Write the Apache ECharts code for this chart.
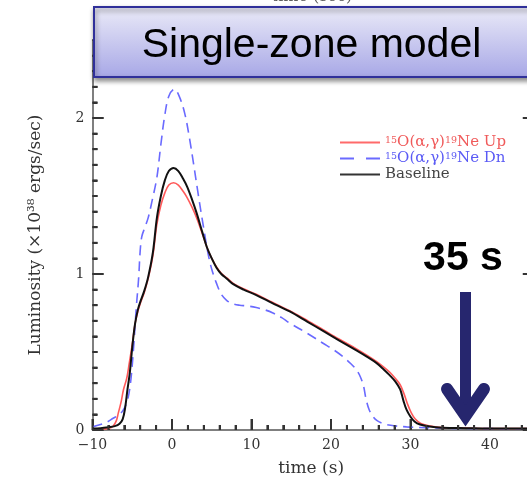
<!DOCTYPE html>
<html>
<head>
<meta charset="utf-8">
<script src="https://cdn.jsdelivr.net/npm/echarts@6/dist/echarts.min.js"></script>
<style>
html,body{margin:0;padding:0;background:#fff;}
#c{width:527px;height:482px;}
</style>
</head>
<body>
<div id="c"></div>
<script>
// ---- data (time in s, luminosity in 1e38 erg/s) ----
const seriesNames = ['Up', 'Dn', 'Baseline'];
const xTickLabels = [-10, 0, 10, 20, 30, 40];
const yTickLabels = [0, 1, 2];
const xMinorTicks = [-8, -6, -4, -2, 2, 4, 6, 8, 12, 14, 16, 18, 22, 24, 26, 28, 32, 34, 36, 38, 42, 44];
const yMinorTicks = [0.1, 0.2, 0.3, 0.4, 0.5, 0.6, 0.7, 0.8, 0.9, 1.1, 1.2, 1.3, 1.4, 1.5, 1.6, 1.7, 1.8, 1.9, 2.1, 2.2, 2.3, 2.4];

const upData = [[-10,0.005],[-9,0.006],[-8,0.01],[-7.4,0.025],[-7.0,0.06],[-6.75,0.11],[-6.4,0.18],[-6.1,0.26],[-5.7,0.33],[-5.4,0.42],[-5.0,0.55],[-4.65,0.68],[-4.3,0.76],[-4.0,0.81],[-3.5,0.88],[-3.0,0.97],[-2.4,1.12],[-1.9,1.32],[-1.4,1.44],[-0.9,1.52],[-0.4,1.57],[0.2,1.585],[0.8,1.57],[1.4,1.53],[1.9,1.49],[2.5,1.43],[3.1,1.36],[3.8,1.26],[4.4,1.17],[5.0,1.10],[5.6,1.045],[6.2,1.005],[6.9,0.975],[7.7,0.94],[9.0,0.905],[10.6,0.87],[12.5,0.822],[14.8,0.765],[17,0.703],[19,0.643],[21,0.583],[23.2,0.52],[24.5,0.48],[25.7,0.44],[26.6,0.405],[27.4,0.37],[28.1,0.33],[28.7,0.29],[29.2,0.23],[29.6,0.17],[30.1,0.11],[30.6,0.07],[31.3,0.042],[32.5,0.025],[34,0.015],[37,0.012],[40,0.01],[45,0.01]];

const dnData = [[-10,0.02],[-9,0.035],[-8.2,0.05],[-7.4,0.075],[-6.6,0.10],[-6.1,0.13],[-5.6,0.19],[-5.2,0.31],[-4.8,0.55],[-4.5,0.78],[-4.2,0.97],[-4.0,1.15],[-3.8,1.24],[-3.4,1.30],[-3.0,1.36],[-2.5,1.47],[-1.9,1.62],[-1.4,1.83],[-0.9,2.02],[-0.4,2.14],[0.3,2.185],[0.9,2.14],[1.6,2.03],[2.2,1.87],[2.7,1.71],[3.3,1.51],[3.9,1.32],[4.5,1.14],[5.0,1.03],[5.6,0.94],[6.2,0.87],[6.9,0.83],[7.6,0.81],[8.5,0.80],[9.5,0.795],[10.6,0.785],[11.7,0.77],[12.7,0.75],[13.8,0.72],[14.8,0.685],[17,0.62],[19,0.556],[20.3,0.515],[21.5,0.47],[22.5,0.425],[23.2,0.385],[23.7,0.34],[24.1,0.28],[24.4,0.2],[24.8,0.13],[25.3,0.085],[25.8,0.06],[26.6,0.04],[27.5,0.03],[29.5,0.02],[32,0.015],[36,0.01],[45,0.008]];

const baseData = [[-10,0.01],[-9,0.012],[-8,0.018],[-7.2,0.025],[-6.6,0.04],[-6.2,0.07],[-5.9,0.14],[-5.6,0.26],[-5.3,0.37],[-5.0,0.53],[-4.65,0.68],[-4.3,0.77],[-4.0,0.82],[-3.5,0.89],[-3.0,0.98],[-2.4,1.14],[-1.9,1.36],[-1.4,1.50],[-0.9,1.60],[-0.4,1.66],[0.2,1.68],[0.8,1.66],[1.4,1.61],[1.9,1.56],[2.5,1.48],[3.1,1.39],[3.8,1.27],[4.4,1.17],[5.0,1.10],[5.6,1.04],[6.2,1.00],[6.9,0.97],[7.7,0.935],[9.0,0.90],[10.6,0.865],[12.5,0.817],[14.8,0.76],[17,0.695],[19,0.635],[21,0.575],[23.2,0.51],[24.5,0.47],[25.7,0.43],[26.6,0.39],[27.4,0.35],[28.1,0.31],[28.7,0.26],[29.1,0.19],[29.5,0.13],[30,0.085],[30.5,0.055],[31.2,0.035],[32.4,0.022],[34,0.015],[37,0.012],[40,0.01],[45,0.01]];

const titleText = 'Single-zone model';
const arrowText = '35 s';

// ---- chart ----
const serif = 'DejaVu Serif';
const axisGray = '#333';
const X_MIN = -10, X_MAX = 45;
const chart = echarts.init(document.getElementById('c'));

function fmtX(v) {
  if (xTickLabels.indexOf(v) < 0) return '';
  return String(v).replace('-', '\u2212');
}
function fmtY(v) {
  return yTickLabels.indexOf(v) < 0 ? '' : String(v);
}
function legendFmt(name) {
  if (name === 'Baseline') return '{t|Baseline}';
  return '{s|15}{t|O(\u03b1,\u03b3)}{s|19}{t|Ne ' + name + '}';
}

// tick marks drawn through the axis scales
const xTickData = xTickLabels.map(v => [v, 1]).concat(xMinorTicks.map(v => [v, 0]));
const yTickData = yTickLabels.map(v => [v, 1]).concat(yMinorTicks.map(v => [v, 0]));
function renderXTick(params, api) {
  const p = api.coord([api.value(0), 0]);
  const len = api.value(1) ? 11 : 5;
  return {type: 'line', shape: {x1: p[0], y1: p[1], x2: p[0], y2: p[1] - len},
          style: {stroke: axisGray, lineWidth: 2}};
}
function renderYTick(params, api) {
  const major = api.value(1);
  const p = api.coord([X_MIN, api.value(0)]);
  const q = api.coord([X_MAX, api.value(0)]);
  const len = major ? 11 : 5;
  const children = [{type: 'line', shape: {x1: p[0], y1: p[1], x2: p[0] + len, y2: p[1]},
                     style: {stroke: axisGray, lineWidth: 2}}];
  if (major) {
    children.push({type: 'line', shape: {x1: q[0], y1: q[1], x2: q[0] - 7, y2: q[1]},
                   style: {stroke: axisGray, lineWidth: 2}});
  }
  return {type: 'group', children: children};
}

const solidIcon = 'path://M0,0H40V2H0Z';
const dashIcon = 'path://M0,0H14V2H0Z M26,0H40V2H26Z';

const option = {
  animation: false,
  grid: {left: 92.5, top: 40, width: 437.25, height: 390, outerBoundsMode: 'none'},
  legend: {
    left: 335, top: 130, orient: 'vertical',
    itemWidth: 40, itemHeight: 2, itemGap: 1,
    formatter: legendFmt,
    textStyle: {
      fontFamily: serif, fontSize: 15,
      rich: {
        t: {fontFamily: serif, fontSize: 15, lineHeight: 14},
        s: {fontFamily: serif, fontSize: 9.5, lineHeight: 14, verticalAlign: 'top'}
      }
    },
    data: [
      {name: seriesNames[0], icon: solidIcon, textStyle: {color: '#f05a5a'}, itemStyle: {color: '#ff6a6a'}},
      {name: seriesNames[1], icon: dashIcon, textStyle: {color: '#5a5af5'}, itemStyle: {color: '#6a6aff'}},
      {name: seriesNames[2], icon: solidIcon, textStyle: {color: '#444'}, itemStyle: {color: '#333'}}
    ]
  },
  xAxis: {
    type: 'value', min: X_MIN, max: X_MAX, interval: 10,
    name: 'time (s)', nameLocation: 'middle', nameGap: 30,
    nameTextStyle: {fontFamily: serif, fontSize: 17, color: '#333'},
    axisLine: {show: true, onZero: false, lineStyle: {color: '#555', width: 1.5}},
    axisTick: {show: true, inside: true, length: 11, lineStyle: {color: axisGray, width: 2}},
    minorTick: {show: true, splitNumber: 5, length: 5, lineStyle: {color: axisGray, width: 2}},
    axisLabel: {formatter: fmtX, fontFamily: serif, fontSize: 14, color: '#333', margin: 8},
    splitLine: {show: false}
  },
  yAxis: {
    type: 'value', min: 0, max: 2.5, interval: 1,
    name: 'Luminosity (\u00d710\u00b3\u2078 ergs/sec)', nameLocation: 'middle', nameGap: 48,
    nameTextStyle: {fontFamily: serif, fontSize: 17, color: '#333'},
    axisLine: {show: true, onZero: false, lineStyle: {color: '#555', width: 1.5}},
    axisTick: {show: true, inside: true, length: 11, lineStyle: {color: axisGray, width: 2}},
    minorTick: {show: true, splitNumber: 10, length: 5, lineStyle: {color: axisGray, width: 2}},
    axisLabel: {formatter: fmtY, fontFamily: serif, fontSize: 14, color: '#333', margin: 8},
    splitLine: {show: false}
  },
  series: [
    {
      name: seriesNames[1], type: 'line', data: dnData, symbol: 'none',
      smooth: 0.35, z: 2,
      lineStyle: {color: '#6a6aff', width: 1.6, type: [10, 6]},
      itemStyle: {color: '#6a6aff'}
    },
    {
      name: seriesNames[0], type: 'line', data: upData, symbol: 'none',
      smooth: 0.35, z: 3,
      lineStyle: {color: '#ff5a5a', width: 1.6},
      itemStyle: {color: '#ff5a5a'}
    },
    {
      name: seriesNames[2], type: 'line', data: baseData, symbol: 'none',
      smooth: 0.35, z: 4,
      lineStyle: {color: '#111', width: 2},
      itemStyle: {color: '#111'}
    },
    {
      name: 'xticks', type: 'custom', data: xTickData, renderItem: renderXTick,
      encode: {x: 0, y: 1}, silent: true, clip: false, z: 10
    },
    {
      name: 'yticks', type: 'custom', data: yTickData, renderItem: renderYTick,
      encode: {y: 0, x: 1}, silent: true, clip: false, z: 10
    }
  ],
  graphic: [
    {
      type: 'text', z: 50,
      style: {x: 312, y: 5, text: 'time (sec)', font: '16px "DejaVu Serif"', fill: '#555', textAlign: 'center', textVerticalAlign: 'bottom'}
    },
    {
      type: 'rect', z: 100,
      shape: {x: 94, y: 7, width: 460, height: 70},
      style: {
        fill: new echarts.graphic.LinearGradient(0, 0, 0, 1, [
          {offset: 0, color: '#ebebf8'},
          {offset: 1, color: '#a7a7e6'}
        ]),
        stroke: '#30309a', lineWidth: 2,
        shadowBlur: 5, shadowOffsetX: 1, shadowOffsetY: 3, shadowColor: 'rgba(0,0,0,0.45)'
      }
    },
    {
      type: 'text', z: 101,
      style: {x: 311.5, y: 46, text: titleText, font: '41px "Liberation Sans", Arial, sans-serif', fill: '#000', textAlign: 'center', textVerticalAlign: 'middle'}
    },
    {
      type: 'text', z: 101,
      style: {x: 463, y: 259, text: arrowText, font: 'bold 41px "Liberation Sans", Arial, sans-serif', fill: '#000', textAlign: 'center', textVerticalAlign: 'middle'}
    },
    {
      type: 'rect', z: 101,
      shape: {x: 460, y: 292, width: 11, height: 125},
      style: {fill: '#26266e'}
    },
    {
      type: 'polyline', z: 101,
      shape: {points: [[447, 389], [465.5, 416], [484, 389]]},
      style: {stroke: '#26266e', lineWidth: 12, lineCap: 'round', lineJoin: 'miter', fill: null}
    }
  ]
};
chart.setOption(option);
</script>
</body>
</html>
